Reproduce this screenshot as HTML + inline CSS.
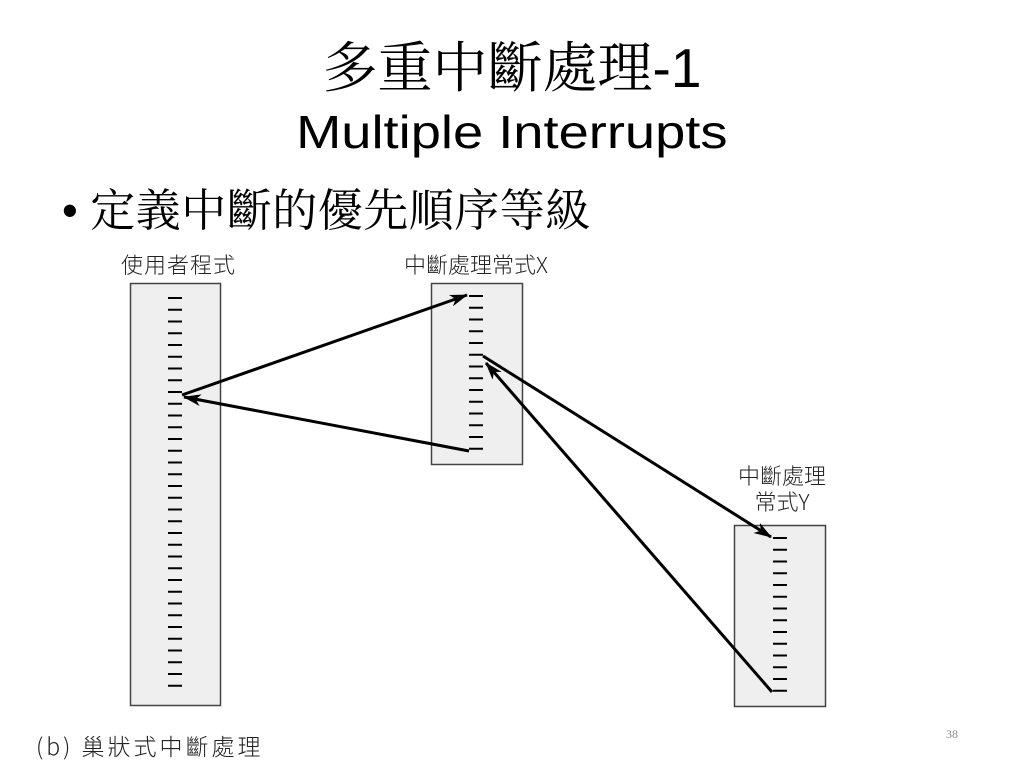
<!DOCTYPE html>
<html><head><meta charset="utf-8"><style>
body{margin:0;width:1024px;height:768px;background:#fff;overflow:hidden;font-family:"Liberation Sans","Noto Sans CJK TC",sans-serif;}
.t{position:absolute;white-space:nowrap;color:#000}
.l{color:#222;font-family:"Noto Sans CJK TC","Liberation Sans",sans-serif;font-weight:300}
</style></head><body>
<div class="t" style="left:0;width:1024px;text-align:center;top:34px;font-size:55px;font-family:'Noto Serif CJK SC','Noto Sans CJK TC',serif;line-height:60px">多重中斷處理<span style="font-family:'Liberation Sans',sans-serif">-1</span></div>
<div class="t" style="left:0;width:1024px;text-align:center;top:106px;font-size:46px;line-height:52px"><span style="display:inline-block;transform:scaleX(1.18)">Multiple Interrupts</span></div>
<div class="t" style="left:62px;top:184px;font-size:45px;line-height:54px;font-family:'Liberation Sans','Noto Serif CJK SC',serif">•&nbsp;<span style="letter-spacing:0.5px">定義中斷的優先順序等級</span></div>
<div class="t l" style="left:121px;top:250px;font-size:22px;line-height:28px;letter-spacing:1px">使用者程式</div>
<div class="t l" style="left:404px;top:250px;font-size:22px;line-height:28px">中斷處理常式X</div>
<div class="t l" style="left:738px;top:462px;font-size:22px;text-align:center;line-height:26px">中斷處理<br>常式Y</div>
<div class="t l" style="left:36px;top:731px;font-size:23px;line-height:28px;letter-spacing:3px">(b) 巢狀式中斷處理</div>
<div class="t" style="left:946px;top:727px;font-size:12px;color:#888;font-family:'Liberation Serif',serif">38</div>
<svg width="1024" height="768" style="position:absolute;left:0;top:0">
<defs>
<marker id="b" viewBox="0 0 18 12" markerWidth="18" markerHeight="12" refX="17" refY="6" orient="auto" markerUnits="userSpaceOnUse"><path d="M0,0 L18,6 L0,12 L5,6z" fill="#000"/></marker></defs>
<rect x="130.5" y="283.5" width="90" height="422" fill="#efefef" stroke="#444" stroke-width="1.5"/>
<rect x="431.5" y="283.5" width="91" height="181" fill="#efefef" stroke="#444" stroke-width="1.5"/>
<rect x="734.5" y="525.5" width="91" height="181" fill="#efefef" stroke="#444" stroke-width="1.5"/>
<g stroke="#000" stroke-width="2" id="ticks"></g>
<g stroke="#000" stroke-width="3" fill="none">
<line x1="182" y1="395" x2="467" y2="295" marker-end="url(#b)"/>
<line x1="469" y1="451" x2="184" y2="397" marker-end="url(#b)"/>
<line x1="483" y1="356" x2="771" y2="537" marker-end="url(#b)"/>
<line x1="772" y1="692" x2="486" y2="363" marker-end="url(#b)"/>
</g>
</svg>
<script>
var g=document.getElementById('ticks'),s='';
function t(x1,x2,y0,n){for(var i=0;i<n;i++){var y=y0+i*11.75;s+='<line x1="'+x1+'" x2="'+x2+'" y1="'+y+'" y2="'+y+'"/>';}}
t(168,182,298,34);t(469,483,296,14);t(773,787,538,14);
g.innerHTML=s;
</script>
</body></html>
